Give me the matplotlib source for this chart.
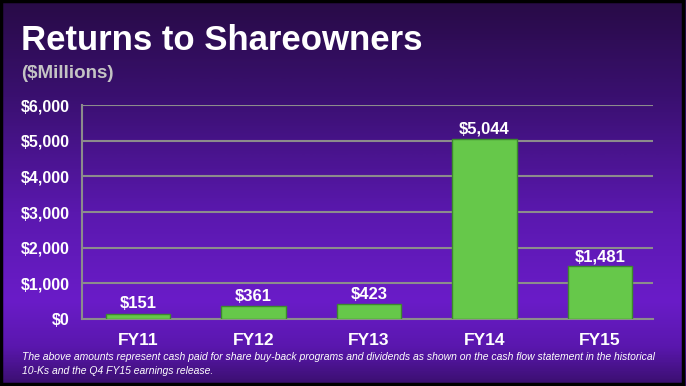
import numpy as np
import matplotlib
matplotlib.use("Agg")
import matplotlib.pyplot as plt
from matplotlib.colors import LinearSegmentedColormap
from matplotlib import font_manager

categories = ["FY11", "FY12", "FY13", "FY14", "FY15"]
values = [151, 361, 423, 5044, 1481]
value_labels = ["$151", "$361", "$423", "$5,044", "$1,481"]
yticks = [0, 1000, 2000, 3000, 4000, 5000, 6000]
ytick_labels = ["$0", "$1,000", "$2,000", "$3,000", "$4,000", "$5,000", "$6,000"]

W, H = 686, 386
fig = plt.figure(figsize=(W / 100, H / 100), dpi=100)
plt.rcParams['font.family'] = ['Liberation Sans', 'DejaVu Sans']
names = {f.name for f in font_manager.fontManager.ttflist}
title_family = ['Liberation Sans Narrow', 'Liberation Sans'] if 'Liberation Sans Narrow' in names else ['Liberation Sans']
title_size = 29.6 if 'Liberation Sans Narrow' in names else 25

# background gradient
bg = fig.add_axes([0, 0, 1, 1])
bg.set_axis_off()
cmap = LinearSegmentedColormap.from_list(
    "bgc",
    [(0.0, "#280b46"), (0.25, "#3a1070"), (0.55, "#5a18ae"),
     (0.78, "#6a1cc8"), (0.9, "#5a17ae"), (1.0, "#3a0f6e")])
grad = np.linspace(0, 1, 400).reshape(-1, 1)
bg.imshow(grad, aspect="auto", cmap=cmap, extent=[0, 1, 0, 1], origin="upper")
bg.set_xlim(0, 1)
bg.set_ylim(0, 1)
bg.add_patch(plt.Rectangle((0.002, 0.004), 0.994, 0.993, fill=False,
                           edgecolor="black", linewidth=2.5, transform=bg.transAxes))

fig.text(21 / W, 1 - 40 / H, "Returns to Shareowners", color="white",
         fontsize=title_size, fontweight="bold", va="center", ha="left",
         family=title_family)
fig.text(21 / W, 1 - 74 / H, "($Millions)", color="#c4c4c4",
         fontsize=13.5, fontweight="bold", va="center", ha="left")
fig.text(22 / W, 1 - 357 / H,
         "The above amounts represent cash paid for share buy-back programs and dividends as shown on the cash flow statement in the historical",
         color="white", fontsize=7.5, style="italic", va="center", ha="left")
fig.text(22 / W, 1 - 371 / H,
         "10-Ks and the Q4 FY15 earnings release.",
         color="white", fontsize=7.5, style="italic", va="center", ha="left")

ax = fig.add_axes([82 / W, 67 / H, (653 - 82) / W, 214 / H])
ax.patch.set_alpha(0)
x = np.arange(len(categories))
ax.bar(x, values, width=0.56, color="#66c84a", edgecolor="#3d8a2c",
       linewidth=1.0, zorder=3)
for xi, v, lab in zip(x, values, value_labels):
    ax.text(xi, v + 60, lab, ha="center", va="bottom", color="white",
            fontsize=12, fontweight="bold", zorder=4)
ax.set_xlim(-0.485, 4.46)
ax.set_ylim(0, 6000)
ax.set_yticks(yticks)
ax.set_yticklabels(ytick_labels)
ax.set_xticks(x)
ax.set_xticklabels(categories)
ax.grid(axis="y", color="#8c8c8c", linewidth=1.5, zorder=1)
ax.set_axisbelow(True)
for s in ["top", "right"]:
    ax.spines[s].set_visible(False)
ax.spines["left"].set_color("#8c8c8c")
ax.spines["left"].set_linewidth(1.5)
ax.spines["bottom"].set_color("#8c8c8c")
ax.spines["bottom"].set_linewidth(1.5)
ax.tick_params(axis="y", length=0, pad=9, labelcolor="white", labelsize=11.5)
ax.tick_params(axis="x", length=0, pad=10, labelcolor="white", labelsize=12.5)
for t in ax.get_yticklabels() + ax.get_xticklabels():
    t.set_fontweight("bold")

fig.savefig("out.png", dpi=100)
